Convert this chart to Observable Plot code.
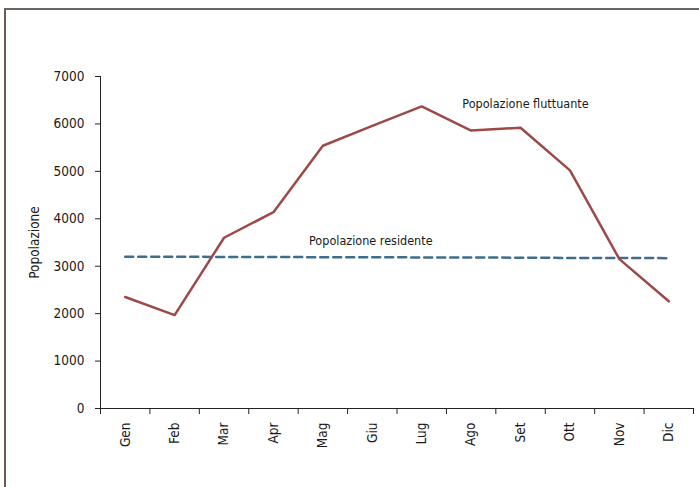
<!DOCTYPE html>
<html>
<head>
<meta charset="utf-8">
<script src="https://cdn.jsdelivr.net/npm/d3@7"></script>
<script src="https://cdn.jsdelivr.net/npm/@observablehq/plot@0.6"></script>
<style>
  html, body { margin: 0; padding: 0; background: #fff; }
  #wrap { position: relative; width: 699px; height: 487px; overflow: hidden; }
  #frame { position: absolute; left: 4px; top: 8px; width: 720px; height: 520px;
           border-left: 2px solid #6e5c52; border-top: 2px solid #6e6660; box-sizing: border-box; }
  #chart { position: absolute; left: 0; top: 0; }
</style>
</head>
<body>
<div id="wrap"><div id="frame"></div><div id="chart"></div></div>
<script>
const months = ["Gen","Feb","Mar","Apr","Mag","Giu","Lug","Ago","Set","Ott","Nov","Dic"];
const fluttuante = [2350, 1970, 3600, 4140, 5540, 5960, 6370, 5860, 5920, 5020, 3150, 2260];
const residente = [3200, 3200, 3195, 3195, 3190, 3190, 3185, 3185, 3180, 3175, 3175, 3170];
const yTicks = [0, 1000, 2000, 3000, 4000, 5000, 6000, 7000];

const rowsF = months.map((m, i) => ({i: i + 0.5, v: fluttuante[i]}));
const rowsR = months.map((m, i) => ({i: i + 0.5, v: residente[i]}));

const chart = Plot.plot({
  width: 699,
  height: 487,
  marginLeft: 100,
  marginRight: 6,
  marginTop: 76,
  marginBottom: 79,
  style: {fontSize: "14px", fontFamily: "'DejaVu Sans Condensed', 'Liberation Sans Narrow', sans-serif", color: "#1a1a1a", background: "transparent"},
  x: {domain: [0, 12]},
  y: {domain: [0, 7000]},
  marks: [
    Plot.axisY({ticks: yTicks, tickSize: 5, tickPadding: 11, tickFormat: d => String(d),
      label: "Popolazione", labelAnchor: "center", labelArrow: "none", labelOffset: 71, stroke: "#222", fontSize: 13.5}),
    Plot.axisX({ticks: d3.range(0, 13), tickSize: 6, tickFormat: () => "", label: null, stroke: "#222"}),
    Plot.axisX({ticks: d3.range(0.5, 12, 1), tickSize: 0, tickPadding: 14, tickRotate: -90,
      tickFormat: d => months[Math.floor(d)], label: null, fontSize: 13.5}),
    Plot.ruleX([0], {stroke: "#222"}),
    Plot.ruleY([0], {stroke: "#222"}),
    Plot.line(rowsR, {x: "i", y: "v", stroke: "#3e6d8d", strokeWidth: 2.5, strokeDasharray: "8,5"}),
    Plot.line(rowsF, {x: "i", y: "v", stroke: "#9c4a48", strokeWidth: 2.5}),
    Plot.text(["Popolazione fluttuante"], {x: 8.6, y: 6410, text: d => d, fontSize: 12.5, fill: "#1a1a1a"}),
    Plot.text(["Popolazione residente"], {x: 5.47, y: 3540, text: d => d, fontSize: 12.5, fill: "#1a1a1a"})
  ]
});
document.getElementById("chart").appendChild(chart);
</script>
</body>
</html>
